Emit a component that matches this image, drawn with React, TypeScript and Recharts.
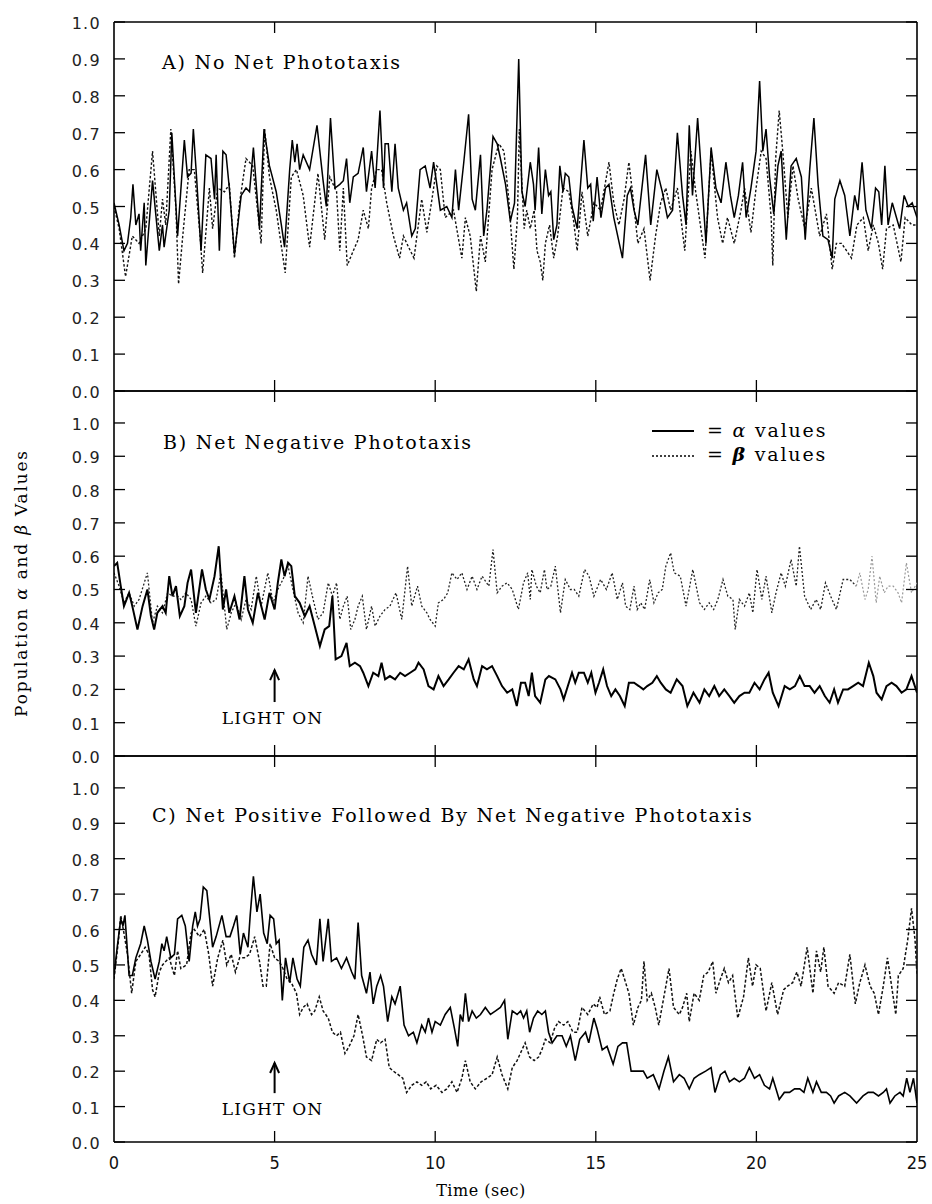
import React from 'react';
import { LineChart, Line, XAxis, YAxis, ReferenceLine } from 'recharts';

type P = [number, number];

const timeTicks = [0, 5, 10, 15, 20, 25];
const valueTicks = [0, 0.1, 0.2, 0.3, 0.4, 0.5, 0.6, 0.7, 0.8, 0.9, 1.0];
const lightOnTime = 5;
const panelTitles = [
  'A) No Net Phototaxis',
  'B) Net Negative Phototaxis',
  'C) Net Positive Followed By Net Negative Phototaxis',
];

// Panel A
const alphaA: P[] = [[0,0.51],[0.16,0.45],[0.31,0.38],[0.42,0.40],[0.52,0.47],[0.59,0.56],[0.68,0.45],[0.78,0.48],[0.83,0.38],[0.94,0.51],[0.99,0.34],[1.09,0.45],[1.2,0.57],[1.41,0.38],[1.51,0.45],[1.56,0.39],[1.72,0.49],[1.8,0.70],[1.98,0.42],[2.19,0.68],[2.29,0.58],[2.4,0.59],[2.47,0.71],[2.57,0.58],[2.71,0.38],[2.86,0.64],[3.02,0.63],[3.13,0.52],[3.18,0.64],[3.28,0.38],[3.39,0.65],[3.49,0.64],[3.59,0.55],[3.75,0.37],[3.96,0.53],[4.11,0.55],[4.22,0.54],[4.34,0.66],[4.53,0.44],[4.67,0.71],[4.84,0.61],[5.05,0.54],[5.21,0.45],[5.31,0.39],[5.47,0.60],[5.55,0.68],[5.63,0.62],[5.7,0.67],[5.78,0.60],[5.89,0.64],[6.09,0.60],[6.32,0.72],[6.51,0.57],[6.61,0.50],[6.74,0.74],[6.88,0.55],[7.03,0.56],[7.14,0.57],[7.24,0.63],[7.34,0.51],[7.45,0.58],[7.6,0.59],[7.76,0.66],[7.86,0.54],[8.02,0.65],[8.13,0.55],[8.28,0.76],[8.39,0.55],[8.44,0.67],[8.54,0.67],[8.65,0.54],[8.75,0.67],[8.85,0.55],[9.01,0.49],[9.11,0.51],[9.27,0.42],[9.38,0.44],[9.53,0.60],[9.69,0.61],[9.84,0.55],[9.95,0.62],[10.05,0.56],[10.16,0.49],[10.36,0.50],[10.52,0.47],[10.63,0.60],[10.73,0.49],[10.89,0.62],[11.04,0.75],[11.15,0.52],[11.25,0.49],[11.41,0.64],[11.51,0.42],[11.61,0.49],[11.8,0.69],[11.93,0.67],[12.03,0.63],[12.19,0.56],[12.34,0.46],[12.47,0.51],[12.6,0.90],[12.7,0.54],[12.8,0.50],[12.96,0.62],[13.06,0.56],[13.11,0.49],[13.22,0.66],[13.32,0.48],[13.43,0.60],[13.53,0.53],[13.6,0.54],[13.69,0.41],[13.79,0.45],[13.88,0.61],[13.98,0.54],[14.05,0.59],[14.16,0.58],[14.26,0.50],[14.42,0.44],[14.63,0.68],[14.75,0.55],[14.84,0.56],[14.92,0.46],[15.04,0.58],[15.16,0.47],[15.3,0.55],[15.41,0.56],[15.56,0.47],[15.83,0.36],[15.98,0.53],[16.08,0.55],[16.19,0.49],[16.31,0.45],[16.55,0.64],[16.71,0.45],[16.9,0.60],[17.07,0.54],[17.23,0.47],[17.39,0.49],[17.54,0.70],[17.7,0.53],[17.81,0.45],[17.91,0.72],[18.01,0.53],[18.17,0.74],[18.28,0.60],[18.43,0.40],[18.59,0.66],[18.74,0.55],[18.9,0.51],[19.05,0.62],[19.19,0.53],[19.31,0.47],[19.44,0.53],[19.57,0.62],[19.68,0.47],[19.83,0.55],[19.99,0.65],[20.1,0.84],[20.2,0.65],[20.3,0.71],[20.41,0.58],[20.54,0.48],[20.67,0.61],[20.77,0.65],[20.93,0.41],[21.08,0.61],[21.24,0.63],[21.4,0.58],[21.52,0.41],[21.66,0.60],[21.79,0.74],[21.92,0.56],[22.07,0.42],[22.23,0.41],[22.36,0.36],[22.44,0.52],[22.6,0.57],[22.75,0.53],[22.91,0.42],[23.06,0.53],[23.16,0.49],[23.29,0.62],[23.41,0.49],[23.58,0.44],[23.71,0.55],[23.81,0.54],[23.9,0.45],[24.0,0.61],[24.1,0.45],[24.23,0.51],[24.36,0.47],[24.46,0.44],[24.6,0.53],[24.73,0.50],[24.85,0.51],[25,0.47]];
const betaA: P[] = [[0,0.50],[0.16,0.44],[0.36,0.31],[0.57,0.42],[0.78,0.40],[0.99,0.44],[1.2,0.65],[1.3,0.54],[1.41,0.42],[1.51,0.52],[1.61,0.45],[1.77,0.71],[1.93,0.49],[2.01,0.29],[2.14,0.42],[2.34,0.60],[2.5,0.60],[2.68,0.42],[2.76,0.32],[2.97,0.55],[3.07,0.44],[3.23,0.55],[3.44,0.54],[3.59,0.56],[3.75,0.36],[3.91,0.51],[4.11,0.63],[4.32,0.61],[4.58,0.40],[4.69,0.71],[4.84,0.58],[5.05,0.49],[5.33,0.32],[5.52,0.58],[5.68,0.60],[5.89,0.53],[6.09,0.39],[6.35,0.59],[6.56,0.41],[6.72,0.58],[6.93,0.54],[7.03,0.38],[7.14,0.55],[7.26,0.34],[7.45,0.38],[7.6,0.41],[7.76,0.49],[7.92,0.44],[8.02,0.55],[8.18,0.60],[8.33,0.60],[8.49,0.51],[8.7,0.42],[8.89,0.36],[9.01,0.42],[9.17,0.39],[9.34,0.36],[9.58,0.52],[9.74,0.43],[9.9,0.52],[10.05,0.61],[10.16,0.60],[10.31,0.47],[10.57,0.49],[10.83,0.36],[10.94,0.47],[11.09,0.42],[11.28,0.27],[11.41,0.42],[11.56,0.35],[11.77,0.60],[11.98,0.67],[12.14,0.65],[12.29,0.52],[12.45,0.33],[12.56,0.47],[12.62,0.71],[12.7,0.56],[12.77,0.44],[12.85,0.49],[12.96,0.44],[13.08,0.49],[13.17,0.38],[13.27,0.35],[13.35,0.30],[13.43,0.40],[13.56,0.45],[13.69,0.36],[13.81,0.42],[13.98,0.55],[14.16,0.54],[14.31,0.46],[14.42,0.38],[14.57,0.54],[14.75,0.42],[14.94,0.51],[15.15,0.49],[15.41,0.62],[15.56,0.51],[15.72,0.45],[15.88,0.52],[16.03,0.62],[16.14,0.54],[16.31,0.40],[16.5,0.44],[16.69,0.30],[16.86,0.42],[17.02,0.51],[17.18,0.55],[17.33,0.49],[17.54,0.55],[17.77,0.38],[17.96,0.65],[18.11,0.54],[18.4,0.36],[18.59,0.65],[18.79,0.47],[18.95,0.40],[19.1,0.47],[19.31,0.40],[19.52,0.49],[19.63,0.55],[19.83,0.43],[19.99,0.55],[20.15,0.65],[20.3,0.63],[20.46,0.47],[20.51,0.34],[20.6,0.63],[20.71,0.76],[20.82,0.65],[20.98,0.47],[21.14,0.61],[21.3,0.52],[21.51,0.44],[21.71,0.55],[21.81,0.50],[21.97,0.42],[22.18,0.48],[22.36,0.33],[22.49,0.40],[22.65,0.40],[22.81,0.38],[22.96,0.36],[23.13,0.45],[23.33,0.47],[23.48,0.38],[23.64,0.45],[23.8,0.40],[23.93,0.33],[24.05,0.44],[24.26,0.45],[24.5,0.35],[24.63,0.47],[24.84,0.45],[25,0.45]];

// Panel B
const alphaB: P[] = [[0,0.57],[0.1,0.58],[0.21,0.51],[0.31,0.45],[0.47,0.49],[0.57,0.45],[0.73,0.38],[0.89,0.45],[1.04,0.50],[1.15,0.42],[1.25,0.38],[1.35,0.43],[1.51,0.45],[1.61,0.43],[1.72,0.54],[1.82,0.48],[1.93,0.51],[2.05,0.42],[2.19,0.45],[2.29,0.52],[2.4,0.56],[2.55,0.43],[2.74,0.56],[2.86,0.50],[2.97,0.47],[3.13,0.54],[3.26,0.63],[3.39,0.44],[3.49,0.50],[3.59,0.43],[3.75,0.48],[3.91,0.41],[4.06,0.54],[4.17,0.44],[4.32,0.40],[4.48,0.49],[4.69,0.41],[4.84,0.49],[5.0,0.44],[5.1,0.52],[5.21,0.59],[5.31,0.54],[5.42,0.58],[5.52,0.57],[5.63,0.48],[5.78,0.46],[5.94,0.42],[6.09,0.45],[6.25,0.39],[6.41,0.33],[6.56,0.38],[6.7,0.39],[6.8,0.48],[6.9,0.29],[7.08,0.30],[7.24,0.34],[7.34,0.27],[7.5,0.28],[7.66,0.27],[7.76,0.25],[7.92,0.21],[8.07,0.25],[8.23,0.24],[8.33,0.28],[8.44,0.23],[8.59,0.24],[8.75,0.23],[8.91,0.25],[9.06,0.24],[9.22,0.25],[9.38,0.26],[9.48,0.28],[9.64,0.26],[9.79,0.21],[9.95,0.20],[10.1,0.24],[10.26,0.21],[10.42,0.23],[10.57,0.25],[10.73,0.27],[10.89,0.26],[11.04,0.29],[11.2,0.23],[11.3,0.21],[11.46,0.27],[11.61,0.26],[11.77,0.27],[11.93,0.24],[12.08,0.21],[12.24,0.19],[12.4,0.20],[12.54,0.15],[12.67,0.22],[12.8,0.22],[12.91,0.18],[13.01,0.25],[13.11,0.18],[13.27,0.16],[13.43,0.23],[13.54,0.24],[13.74,0.23],[13.9,0.20],[14.0,0.17],[14.13,0.21],[14.26,0.25],[14.36,0.22],[14.47,0.25],[14.63,0.25],[14.75,0.22],[14.86,0.25],[14.99,0.19],[15.1,0.22],[15.23,0.26],[15.35,0.21],[15.48,0.18],[15.61,0.20],[15.75,0.18],[15.9,0.15],[16.03,0.22],[16.19,0.22],[16.34,0.21],[16.48,0.20],[16.6,0.21],[16.76,0.22],[16.9,0.24],[17.02,0.22],[17.18,0.20],[17.33,0.19],[17.52,0.23],[17.7,0.21],[17.85,0.15],[18.04,0.19],[18.23,0.16],[18.38,0.20],[18.53,0.18],[18.69,0.21],[18.84,0.18],[19.0,0.20],[19.16,0.18],[19.31,0.16],[19.47,0.18],[19.63,0.19],[19.78,0.19],[19.94,0.22],[20.1,0.20],[20.25,0.23],[20.38,0.25],[20.51,0.19],[20.69,0.15],[20.88,0.21],[21.04,0.20],[21.2,0.21],[21.35,0.24],[21.5,0.21],[21.66,0.21],[21.81,0.19],[21.97,0.21],[22.13,0.18],[22.28,0.16],[22.42,0.20],[22.54,0.16],[22.7,0.20],[22.85,0.20],[23.01,0.21],[23.17,0.22],[23.32,0.21],[23.5,0.28],[23.64,0.24],[23.74,0.19],[23.9,0.17],[24.05,0.21],[24.21,0.22],[24.36,0.21],[24.52,0.19],[24.67,0.20],[24.83,0.24],[25,0.19]];
const betaB: P[] = [[0,0.55],[0.16,0.51],[0.31,0.46],[0.47,0.49],[0.63,0.45],[0.78,0.47],[1.04,0.55],[1.2,0.40],[1.35,0.45],[1.51,0.43],[1.67,0.49],[1.82,0.48],[1.98,0.48],[2.08,0.47],[2.24,0.49],[2.4,0.47],[2.55,0.39],[2.71,0.46],[2.86,0.48],[3.02,0.46],[3.18,0.47],[3.33,0.55],[3.51,0.38],[3.65,0.43],[3.8,0.46],[3.96,0.41],[4.11,0.47],[4.27,0.44],[4.43,0.54],[4.58,0.45],[4.79,0.55],[4.95,0.46],[5.1,0.50],[5.26,0.53],[5.42,0.57],[5.57,0.50],[5.73,0.43],[5.89,0.40],[6.04,0.54],[6.2,0.47],[6.35,0.41],[6.51,0.43],[6.67,0.52],[6.8,0.48],[6.93,0.52],[7.03,0.41],[7.14,0.45],[7.26,0.48],[7.37,0.38],[7.5,0.41],[7.6,0.45],[7.73,0.48],[7.86,0.38],[8.02,0.45],[8.13,0.39],[8.28,0.42],[8.44,0.44],[8.59,0.45],[8.78,0.49],[8.96,0.41],[9.14,0.57],[9.27,0.45],[9.45,0.51],[9.58,0.45],[9.74,0.43],[9.84,0.41],[10.0,0.39],[10.1,0.46],[10.26,0.47],[10.39,0.49],[10.52,0.55],[10.68,0.53],[10.83,0.55],[10.99,0.50],[11.15,0.54],[11.3,0.50],[11.46,0.54],[11.67,0.51],[11.8,0.62],[11.93,0.49],[12.08,0.51],[12.24,0.52],[12.4,0.50],[12.59,0.44],[12.75,0.52],[12.88,0.55],[12.96,0.47],[13.01,0.56],[13.15,0.51],[13.27,0.49],[13.4,0.56],[13.48,0.50],[13.6,0.51],[13.74,0.57],[13.9,0.43],[14.05,0.53],[14.21,0.50],[14.33,0.50],[14.47,0.48],[14.65,0.56],[14.79,0.54],[14.94,0.48],[15.15,0.53],[15.33,0.50],[15.51,0.55],[15.67,0.47],[15.83,0.52],[15.93,0.45],[16.06,0.44],[16.19,0.51],[16.29,0.44],[16.4,0.46],[16.52,0.44],[16.68,0.53],[16.81,0.46],[16.94,0.49],[17.07,0.50],[17.18,0.57],[17.33,0.61],[17.44,0.55],[17.63,0.54],[17.81,0.45],[18.02,0.56],[18.23,0.46],[18.38,0.44],[18.53,0.46],[18.67,0.44],[18.8,0.47],[18.96,0.53],[19.11,0.48],[19.27,0.47],[19.34,0.38],[19.47,0.47],[19.63,0.45],[19.78,0.49],[19.89,0.43],[20.02,0.56],[20.17,0.47],[20.3,0.54],[20.48,0.43],[20.61,0.49],[20.77,0.55],[20.9,0.51],[21.08,0.59],[21.24,0.51],[21.34,0.63],[21.5,0.48],[21.69,0.44],[21.86,0.47],[22.0,0.44],[22.15,0.52],[22.31,0.48],[22.49,0.44],[22.7,0.53],[22.91,0.53],[23.11,0.51],[23.22,0.55],[23.38,0.47],[23.48,0.50],[23.6,0.60],[23.73,0.46],[23.84,0.54],[23.98,0.49],[24.1,0.51],[24.26,0.51],[24.41,0.49],[24.52,0.46],[24.67,0.58],[24.83,0.49],[25,0.52]];
const betaBFadeFrom = 23.11;

// Panel C
const alphaC: P[] = [[0,0.47],[0.1,0.55],[0.21,0.63],[0.28,0.61],[0.34,0.64],[0.47,0.47],[0.57,0.47],[0.68,0.52],[0.83,0.56],[0.94,0.61],[1.04,0.57],[1.15,0.51],[1.28,0.46],[1.41,0.51],[1.49,0.56],[1.56,0.54],[1.64,0.58],[1.77,0.52],[1.88,0.53],[1.98,0.63],[2.11,0.64],[2.22,0.61],[2.34,0.51],[2.45,0.61],[2.53,0.65],[2.6,0.61],[2.68,0.63],[2.78,0.72],[2.89,0.71],[2.97,0.64],[3.07,0.55],[3.18,0.58],[3.36,0.64],[3.49,0.58],[3.61,0.58],[3.72,0.61],[3.82,0.64],[3.93,0.53],[4.03,0.59],[4.17,0.55],[4.24,0.64],[4.34,0.75],[4.45,0.65],[4.55,0.70],[4.66,0.59],[4.77,0.56],[4.86,0.64],[4.97,0.63],[5.05,0.56],[5.14,0.57],[5.24,0.40],[5.34,0.52],[5.47,0.45],[5.57,0.52],[5.7,0.46],[5.8,0.44],[5.91,0.55],[6.04,0.57],[6.15,0.53],[6.3,0.50],[6.41,0.63],[6.51,0.51],[6.67,0.63],[6.77,0.51],[6.93,0.52],[7.08,0.49],[7.24,0.52],[7.4,0.48],[7.5,0.46],[7.6,0.62],[7.71,0.47],[7.86,0.42],[7.97,0.48],[8.07,0.39],[8.18,0.44],[8.3,0.47],[8.39,0.44],[8.52,0.34],[8.65,0.41],[8.75,0.39],[8.91,0.44],[9.03,0.33],[9.17,0.30],[9.32,0.31],[9.43,0.28],[9.58,0.33],[9.69,0.31],[9.79,0.35],[9.9,0.31],[10.0,0.34],[10.16,0.33],[10.31,0.36],[10.47,0.38],[10.6,0.32],[10.7,0.27],[10.78,0.36],[10.86,0.34],[10.94,0.42],[11.04,0.34],[11.15,0.37],[11.28,0.35],[11.41,0.36],[11.56,0.38],[11.72,0.36],[11.88,0.37],[12.03,0.38],[12.16,0.40],[12.26,0.29],[12.4,0.37],[12.55,0.36],[12.66,0.37],[12.75,0.35],[12.85,0.37],[12.94,0.31],[13.06,0.35],[13.19,0.37],[13.32,0.36],[13.43,0.37],[13.53,0.31],[13.64,0.28],[13.79,0.30],[13.95,0.30],[14.08,0.27],[14.21,0.30],[14.36,0.23],[14.5,0.29],[14.68,0.31],[14.78,0.28],[14.94,0.35],[15.04,0.32],[15.2,0.26],[15.35,0.27],[15.54,0.22],[15.69,0.27],[15.83,0.28],[15.96,0.28],[16.1,0.20],[16.29,0.20],[16.48,0.20],[16.6,0.18],[16.79,0.19],[16.97,0.15],[17.12,0.20],[17.26,0.24],[17.42,0.17],[17.6,0.19],[17.75,0.18],[17.91,0.15],[18.06,0.18],[18.22,0.19],[18.42,0.20],[18.59,0.21],[18.71,0.14],[18.88,0.19],[19.02,0.20],[19.16,0.17],[19.31,0.18],[19.47,0.17],[19.63,0.18],[19.78,0.21],[19.94,0.18],[20.1,0.19],[20.25,0.16],[20.41,0.15],[20.51,0.18],[20.71,0.12],[20.87,0.14],[21.03,0.14],[21.19,0.15],[21.35,0.15],[21.48,0.14],[21.6,0.18],[21.76,0.14],[21.87,0.17],[22.02,0.14],[22.18,0.14],[22.31,0.13],[22.42,0.11],[22.56,0.13],[22.75,0.14],[22.91,0.13],[23.12,0.11],[23.32,0.13],[23.48,0.14],[23.64,0.14],[23.8,0.13],[23.95,0.14],[24.05,0.15],[24.16,0.11],[24.31,0.13],[24.47,0.14],[24.57,0.13],[24.68,0.18],[24.78,0.14],[24.89,0.18],[25,0.11]];
const betaC: P[] = [[0,0.46],[0.14,0.57],[0.21,0.64],[0.31,0.59],[0.42,0.53],[0.55,0.42],[0.68,0.51],[0.83,0.53],[0.97,0.55],[1.09,0.53],[1.2,0.43],[1.28,0.41],[1.41,0.48],[1.51,0.50],[1.61,0.51],[1.72,0.52],[1.88,0.47],[1.98,0.54],[2.08,0.49],[2.26,0.50],[2.4,0.59],[2.5,0.60],[2.66,0.58],[2.81,0.60],[2.95,0.53],[3.07,0.44],[3.23,0.52],[3.39,0.57],[3.51,0.50],[3.65,0.53],[3.78,0.48],[3.91,0.52],[4.06,0.52],[4.22,0.53],[4.38,0.58],[4.53,0.51],[4.64,0.44],[4.74,0.44],[4.86,0.56],[5.0,0.52],[5.14,0.51],[5.26,0.49],[5.39,0.46],[5.52,0.45],[5.68,0.42],[5.78,0.36],[5.89,0.38],[6.01,0.39],[6.15,0.36],[6.25,0.37],[6.39,0.41],[6.51,0.37],[6.67,0.35],[6.8,0.31],[6.93,0.30],[7.05,0.31],[7.19,0.25],[7.32,0.27],[7.47,0.30],[7.6,0.36],[7.74,0.30],[7.86,0.24],[8.02,0.23],[8.18,0.29],[8.3,0.28],[8.44,0.29],[8.57,0.21],[8.7,0.20],[8.85,0.19],[8.99,0.18],[9.11,0.14],[9.27,0.16],[9.43,0.17],[9.58,0.16],[9.72,0.17],[9.86,0.15],[10.03,0.16],[10.21,0.14],[10.36,0.15],[10.52,0.17],[10.68,0.14],[10.83,0.18],[10.94,0.23],[11.09,0.17],[11.25,0.15],[11.43,0.17],[11.61,0.18],[11.77,0.19],[11.93,0.24],[12.08,0.19],[12.26,0.15],[12.4,0.21],[12.55,0.23],[12.7,0.26],[12.8,0.28],[12.94,0.24],[13.08,0.23],[13.22,0.24],[13.32,0.26],[13.43,0.29],[13.58,0.28],[13.71,0.32],[13.84,0.34],[14.0,0.33],[14.13,0.34],[14.29,0.31],[14.42,0.31],[14.57,0.38],[14.75,0.36],[14.92,0.39],[15.04,0.38],[15.12,0.41],[15.27,0.36],[15.44,0.37],[15.56,0.42],[15.67,0.46],[15.79,0.49],[15.93,0.45],[16.03,0.42],[16.17,0.33],[16.31,0.38],[16.42,0.40],[16.5,0.51],[16.6,0.40],[16.73,0.42],[16.85,0.38],[16.96,0.33],[17.1,0.40],[17.28,0.49],[17.42,0.38],[17.6,0.36],[17.7,0.38],[17.83,0.42],[17.91,0.34],[18.06,0.42],[18.22,0.40],[18.36,0.47],[18.5,0.48],[18.64,0.51],[18.74,0.42],[18.88,0.46],[19.0,0.49],[19.13,0.45],[19.26,0.47],[19.42,0.35],[19.6,0.41],[19.75,0.52],[19.88,0.44],[19.99,0.50],[20.12,0.49],[20.3,0.37],[20.48,0.45],[20.66,0.36],[20.85,0.43],[20.97,0.44],[21.13,0.45],[21.26,0.48],[21.39,0.44],[21.58,0.55],[21.76,0.42],[21.87,0.54],[22.0,0.48],[22.1,0.55],[22.23,0.44],[22.42,0.42],[22.56,0.45],[22.75,0.44],[22.91,0.53],[23.08,0.39],[23.22,0.45],[23.38,0.50],[23.54,0.44],[23.67,0.42],[23.8,0.36],[23.95,0.44],[24.08,0.52],[24.21,0.44],[24.34,0.36],[24.42,0.47],[24.57,0.49],[24.71,0.57],[24.83,0.66],[24.94,0.57],[25,0.47]];

const W = 932;
const H = 1204;
const PL = 114;
const PR = 917;
const YW = 60;
const XH = 30;
const TICK = 11;
const SERIF = "'DejaVu Serif', serif";
const NUM = "'DejaVu Sans', sans-serif";
const NARROW = "'Liberation Sans Narrow', 'DejaVu Sans Condensed', 'Roboto Condensed', 'Liberation Sans', sans-serif";

const pts = (arr: P[]) => arr.map(([t, v]) => ({ t, v }));

type SeriesSpec = { data: P[]; stroke: string; width: number; dash?: string };

type PanelProps = {
  top: number;
  bottom: number;
  ymax: number;
  series: SeriesSpec[];
  showXLabels: boolean;
  arrow?: [number, number];
};

function Arrow(props: any) {
  const { x1, y1, x2, y2 } = props;
  return (
    <g>
      <line x1={x1} y1={y1} x2={x2} y2={y2} stroke="#000" strokeWidth={2} />
      <path d={`M ${x2 - 4.5} ${y2 + 10} L ${x2} ${y2} L ${x2 + 4.5} ${y2 + 10}`} fill="none" stroke="#000" strokeWidth={2} />
      <text x={x1 - 2} y={y1 + 22} textAnchor="middle" fontFamily={SERIF} fontSize={17} letterSpacing={1.2} fill="#000">LIGHT ON</text>
    </g>
  );
}

function Panel({ top, bottom, ymax, series, showXLabels, arrow }: PanelProps) {
  const yTick = (props: any) => {
    const { y, payload } = props;
    return (
      <g>
        <line x1={PL} x2={PL + TICK} y1={y} y2={y} stroke="#000" strokeWidth={1.3} />
        <line x1={PR - TICK} x2={PR} y1={y} y2={y} stroke="#000" strokeWidth={1.3} />
        <text x={101} y={y} dy={7} textAnchor="end" fontFamily={NUM} fontSize={16} letterSpacing={1.3} fill="#222">
          {Number(payload.value).toFixed(1)}
        </text>
      </g>
    );
  };
  const xTick = (props: any) => {
    const { x, payload } = props;
    const v = Number(payload.value);
    const inner = v > 0 && v < 25;
    return (
      <g>
        {inner && <line x1={x} x2={x} y1={top} y2={top + TICK} stroke="#000" strokeWidth={1.3} />}
        {inner && <line x1={x} x2={x} y1={bottom - TICK} y2={bottom} stroke="#000" strokeWidth={1.3} />}
        {showXLabels && (
          <text x={x} y={1169} textAnchor="middle" fontFamily={NARROW} fontSize={18} fill="#111">{v}</text>
        )}
      </g>
    );
  };
  return (
    <div style={{ position: 'absolute', left: 0, top: 0 }}>
      <LineChart
        width={W}
        height={H}
        margin={{ top, bottom: H - bottom - XH, left: PL - YW, right: W - PR }}
      >
        <XAxis
          dataKey="t"
          type="number"
          domain={[0, 25]}
          ticks={timeTicks}
          interval={0}
          allowDataOverflow
          tickLine={false}
          axisLine={{ stroke: '#000', strokeWidth: 1.6 }}
          tick={xTick}
          height={XH}
        />
        <YAxis
          type="number"
          domain={[0, ymax]}
          ticks={valueTicks}
          interval={0}
          allowDataOverflow
          tickLine={false}
          axisLine={{ stroke: '#000', strokeWidth: 1.6 }}
          tick={yTick}
          width={YW}
        />
        <ReferenceLine y={ymax} stroke="#000" strokeWidth={1.6} />
        <ReferenceLine x={25} stroke="#000" strokeWidth={1.6} />
        {series.map((s, i) => (
          <Line
            key={i}
            data={pts(s.data)}
            dataKey="v"
            type="linear"
            stroke={s.stroke}
            strokeWidth={s.width}
            strokeDasharray={s.dash}
            dot={false}
            activeDot={false}
            isAnimationActive={false}
          />
        ))}
        {arrow && (
          <ReferenceLine
            segment={[{ x: lightOnTime, y: arrow[0] }, { x: lightOnTime, y: arrow[1] }]}
            shape={(p: any) => <Arrow {...p} />}
          />
        )}
      </LineChart>
    </div>
  );
}

export default function App() {
  const betaBDark = betaB.filter(([t]) => t <= betaBFadeFrom);
  const betaBLight = betaB.filter(([t]) => t >= betaBFadeFrom);
  return (
    <div style={{ position: 'absolute', left: 0, top: 0, width: W, height: H, background: '#fff' }}>
      <Panel
        top={22}
        bottom={391}
        ymax={1.0}
        showXLabels={false}
        series={[
          { data: betaA, stroke: '#111', width: 1.4, dash: '2.5 2' },
          { data: alphaA, stroke: '#000', width: 1.5 },
        ]}
      />
      <Panel
        top={391}
        bottom={756}
        ymax={1.096}
        showXLabels={false}
        arrow={[0.162, 0.258]}
        series={[
          { data: betaBDark, stroke: '#222', width: 1.3, dash: '2 2' },
          { data: betaBLight, stroke: '#999', width: 1.2, dash: '2 2' },
          { data: alphaB, stroke: '#000', width: 2 },
        ]}
      />
      <Panel
        top={756}
        bottom={1142}
        ymax={1.09}
        showXLabels={true}
        arrow={[0.138, 0.223]}
        series={[
          { data: betaC, stroke: '#111', width: 1.5, dash: '3 2' },
          { data: alphaC, stroke: '#000', width: 1.6 },
        ]}
      />
      <svg
        width={W}
        height={H}
        style={{ position: 'absolute', left: 0, top: 0, pointerEvents: 'none' }}
      >
        <g fontFamily={SERIF} fontSize={19} letterSpacing={1.8} fill="#000">
          <text x={162} y={69}>{panelTitles[0]}</text>
          <text x={163} y={449}>{panelTitles[1]}</text>
          <text x={152} y={822}>{panelTitles[2]}</text>
        </g>
        <line x1={652} x2={694} y1={431} y2={431} stroke="#000" strokeWidth={2} />
        <line x1={652} x2={694} y1={456} y2={456} stroke="#000" strokeWidth={1.3} strokeDasharray="2 2" />
        <g fontFamily={SERIF} fontSize={19} letterSpacing={1.8} fill="#000">
          <text x={707} y={437}>= <tspan fontStyle="italic">α</tspan> values</text>
          <text x={707} y={461}>= <tspan fontStyle="italic" fontWeight="bold">β</tspan> values</text>
        </g>
        <text
          transform="translate(27,583) rotate(-90)"
          textAnchor="middle"
          fontFamily={SERIF}
          fontSize={17}
          letterSpacing={1.8}
          fill="#000"
        >
          Population <tspan fontStyle="italic">α</tspan> and <tspan fontStyle="italic">β</tspan> Values
        </text>
        <text x={481} y={1196} textAnchor="middle" fontFamily={SERIF} fontSize={16} letterSpacing={0.5} fill="#000">
          Time (sec)
        </text>
      </svg>
    </div>
  );
}
